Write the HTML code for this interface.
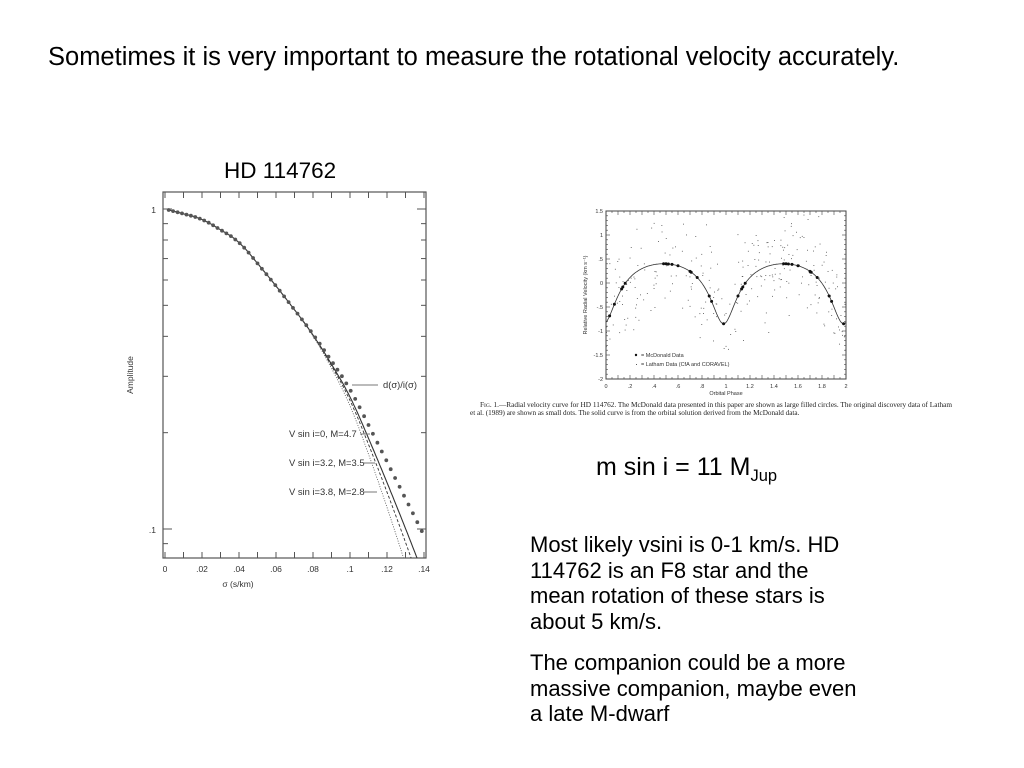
<!DOCTYPE html>
<html><head><meta charset="utf-8"><style>
body{margin:0;width:1024px;height:768px;background:#fff;position:relative;overflow:hidden;font-family:"Liberation Sans",Arial,sans-serif;color:#000}
.t{position:absolute;white-space:nowrap}
p{margin:0}
</style></head><body>
<div class="t" style="left:48px;top:43px;font-size:25.5px">Sometimes it is very important to measure the rotational velocity accurately.</div>
<div class="t" style="left:224px;top:158px;font-size:22.5px">HD 114762</div>
<div class="t" style="left:596px;top:453px;font-size:25px">m sin i = 11 M<sub style="font-size:16.5px">Jup</sub></div>
<div style="position:absolute;left:530px;top:532px;white-space:nowrap;font-size:22px;line-height:25.7px">
<p>Most likely vsini is 0-1 km/s. HD<br>114762 is an F8 star and the<br>mean rotation of these stars is<br>about 5 km/s.</p>
<p style="margin-top:15px">The companion could be a more<br>massive companion, maybe even<br>a late M-dwarf</p>
</div>
<svg id="s" width="1024" height="768" style="position:absolute;left:0;top:0" font-family="Liberation Sans, Arial, sans-serif"></svg>
<script>
var s=document.getElementById('s'),h='';
h+='<defs><clipPath id="c"><rect x="163" y="192" width="263" height="366"/></clipPath></defs>';
h+='<rect x="163" y="192" width="263" height="366" fill="none" stroke="#555" stroke-width="1.2"/>';
function lx(v){return 165+v*1850}
function ly(a){return 209-Math.log10(a)*320}
function lyL(l){return 209-l*320}
for(var i=0;i<=14;i++){var x=lx(i*0.01);h+='<line x1="'+x+'" y1="558" x2="'+x+'" y2="552" stroke="#555"/><line x1="'+x+'" y1="192" x2="'+x+'" y2="198" stroke="#555"/>';}
var xl=['0','.02','.04','.06','.08','.1','.12','.14'];
for(var i=0;i<8;i++)h+='<text x="'+lx(i*0.02)+'" y="572" font-size="8.5" text-anchor="middle" fill="#333">'+xl[i]+'</text>';
for(var k=1;k<=10;k++){var y=ly(k/10);var w=(k==1||k==10)?9:5;h+='<line x1="163" y1="'+y+'" x2="'+(163+w)+'" y2="'+y+'" stroke="#555"/><line x1="426" y1="'+y+'" x2="'+(426-w)+'" y2="'+y+'" stroke="#555"/>';}
var y9=ly(0.09);h+='<line x1="163" y1="'+y9+'" x2="168" y2="'+y9+'" stroke="#555"/>';
h+='<text x="156" y="213" font-size="8.5" text-anchor="end" fill="#333">1</text><text x="156" y="533" font-size="8.5" text-anchor="end" fill="#333">.1</text>';
h+='<text x="238" y="587" font-size="8.5" text-anchor="middle" fill="#333">σ (s/km)</text>';
h+='<text transform="translate(133,375) rotate(-90)" font-size="8.5" text-anchor="middle" fill="#333">Amplitude</text>';
var P=[[0,0],[0.02,-0.03],[0.04,-0.10],[0.06,-0.24],[0.08,-0.39],[0.1,-0.56],[0.12,-0.79],[0.14,-1.02],[0.16,-1.26]];
function base(v){for(var i=0;i<P.length-1;i++){if(v<=P[i+1][0]){var t=(v-P[i][0])/(P[i+1][0]-P[i][0]);return P[i][1]+t*(P[i+1][1]-P[i][1]);}}return -1.3;}
function sm(v){return (base(v-0.004)+base(v)+base(v+0.004))/3;}
function curve(c,dash,col,sw){var d='';for(var v=0.002;v<=0.142;v+=0.001){var l=sm(v)-(v>0.07?c*(v-0.07)*(v-0.07):0);d+=(d?'L':'M')+lx(v).toFixed(1)+','+lyL(l).toFixed(1);}return '<path clip-path="url(#c)" d="'+d+'" fill="none" stroke="'+col+'" stroke-width="'+sw+'"'+(dash?' stroke-dasharray="'+dash+'"':'')+'/>';}
h+=curve(26,'','#333',1.1);
h+=curve(38,'3,2','#333',0.9);
h+=curve(57,'1,1.5','#555',0.8);
for(var v=0.002;v<=0.1405;v+=0.0024){h+='<circle cx="'+lx(v).toFixed(1)+'" cy="'+lyL(sm(v)).toFixed(1)+'" r="1.9" fill="#555"/>';}
var labs=[['d(σ)/i(σ)',383,385,352,378],['V sin i=0, M=4.7',289,434,360,370],['V sin i=3.2, M=3.5',289,463,364,375],['V sin i=3.8, M=2.8',289,492,364,377]];
labs.forEach(function(l){h+='<text x="'+l[1]+'" y="'+(l[2]+3)+'" font-size="9.4" fill="#333">'+l[0]+'</text>';h+='<line x1="'+l[3]+'" y1="'+l[2]+'" x2="'+l[4]+'" y2="'+l[2]+'" stroke="#777"/>';});
function rx(p){return 606+p*120}function ry(v){return 211+(1.5-v)*48}
h+='<rect x="606" y="211" width="240" height="168" fill="none" stroke="#444" stroke-width="1"/>';
for(var i=0;i<=40;i++){var x=rx(i*0.05);var w=i%2?2:4;h+='<line x1="'+x+'" y1="379" x2="'+x+'" y2="'+(379-w)+'" stroke="#444" stroke-width=".6"/><line x1="'+x+'" y1="211" x2="'+x+'" y2="'+(211+w)+'" stroke="#444" stroke-width=".6"/>';}
for(var i=0;i<=35;i++){var y=ry(1.5-i*0.1);var w=i%5?2:4;h+='<line x1="606" y1="'+y+'" x2="'+(606+w)+'" y2="'+y+'" stroke="#444" stroke-width=".6"/><line x1="846" y1="'+y+'" x2="'+(846-w)+'" y2="'+y+'" stroke="#444" stroke-width=".6"/>';}
var xr=['0','.2','.4','.6','.8','1','1.2','1.4','1.6','1.8','2'];
for(var i=0;i<11;i++)h+='<text x="'+rx(i*0.2)+'" y="388" font-size="5.5" text-anchor="middle" fill="#333">'+xr[i]+'</text>';
var yr=['1.5','1','.5','0','-.5','-1','-1.5','-2'];
for(var i=0;i<8;i++)h+='<text x="'+(603)+'" y="'+(ry(1.5-i*0.5)+2)+'" font-size="5.5" text-anchor="end" fill="#333">'+yr[i]+'</text>';
h+='<text x="726" y="395" font-size="5.5" text-anchor="middle" fill="#333">Orbital Phase</text>';
h+='<text transform="translate(587,295) rotate(-90)" font-size="5.5" text-anchor="middle" fill="#333">Relative Radial Velocity (km s⁻¹)</text>';
function rv(p){var M=2*Math.PI*(p-0.98),e=0.39,E=M;for(var j=0;j<30;j++)E=M+e*Math.sin(E);var nu=2*Math.atan2(Math.sqrt(1+e)*Math.sin(E/2),Math.sqrt(1-e)*Math.cos(E/2));return -0.625*(Math.cos(nu)+e)+0.02;}
var d='';for(var p=0;p<=2.001;p+=0.005){d+=(d?'L':'M')+rx(p).toFixed(1)+','+ry(rv(p)).toFixed(1);}
h+='<path d="'+d+'" fill="none" stroke="#333" stroke-width=".8"/>';
var seed=7;function rnd(){seed=(seed*16807)%2147483647;return seed/2147483647;}
for(var i=0;i<300;i++){var p=rnd()*2;var v=rv(p)+(rnd()+rnd()+rnd()-1.5)*1.1;if(v>1.45||v<-1.4)continue;h+='<rect x="'+rx(p).toFixed(1)+'" y="'+ry(v).toFixed(1)+'" width=".9" height=".9" fill="#555"/>';}
var mp=[0.03,0.07,0.13,0.14,0.16,0.48,0.5,0.52,0.55,0.6,0.7,0.71,0.76,0.86,0.88,0.98,1.1,1.13,1.14,1.16,1.48,1.5,1.52,1.55,1.6,1.7,1.71,1.76,1.86,1.88,1.98];
mp.forEach(function(p){h+='<circle cx="'+rx(p).toFixed(1)+'" cy="'+ry(rv(p)).toFixed(1)+'" r="1.5" fill="#111"/>';});
h+='<circle cx="636" cy="355" r="1.2" fill="#111"/><text x="641" y="357" font-size="5.5" fill="#333">= McDonald Data</text>';
h+='<rect x="636" y="364" width=".9" height=".9" fill="#333"/><text x="641" y="366" font-size="5.5" fill="#333">= Latham Data (CfA and CORAVEL)</text>';
h+='<text x="480" y="407" font-size="7.2" font-family="Liberation Serif, serif" fill="#222" textLength="472" lengthAdjust="spacingAndGlyphs">F<tspan font-size="5.5">IG</tspan>. 1.—Radial velocity curve for HD 114762. The McDonald data presented in this paper are shown as large filled circles. The original discovery data of Latham</text>';
h+='<text x="470" y="415" font-size="7.2" font-family="Liberation Serif, serif" fill="#222">et al. (1989) are shown as small dots. The solid curve is from the orbital solution derived from the McDonald data.</text>';
s.innerHTML=h;
</script>
</body></html>
